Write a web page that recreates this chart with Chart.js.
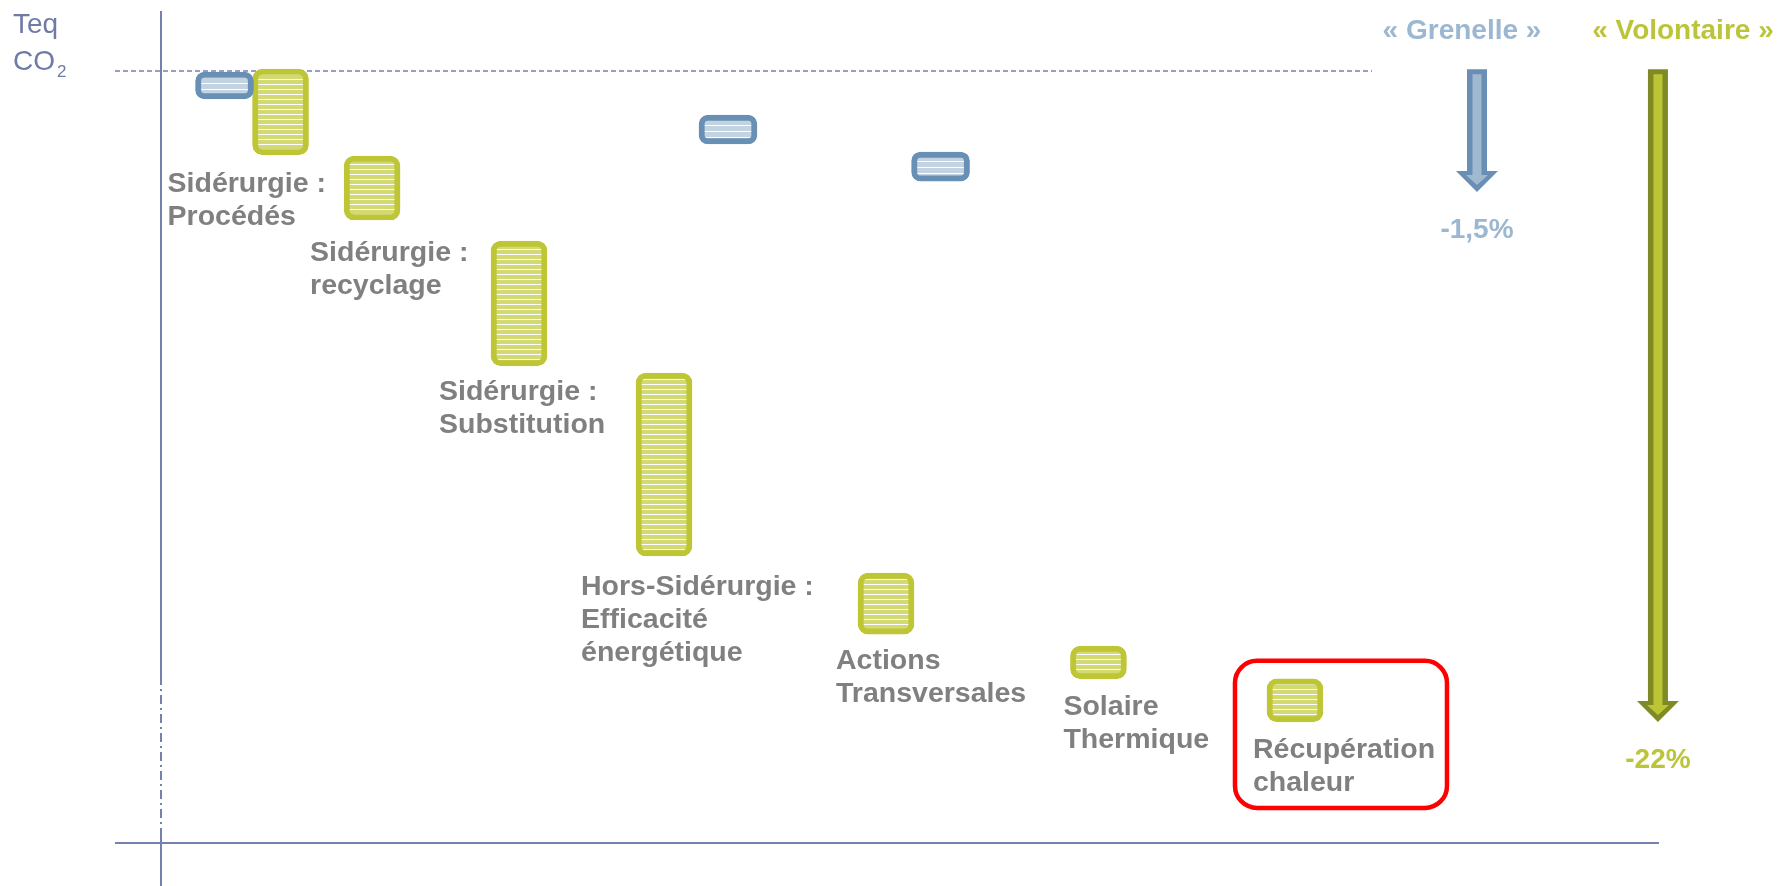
<!DOCTYPE html>
<html>
<head>
<meta charset="utf-8">
<script src="https://cdn.jsdelivr.net/npm/chart.js@4"></script>
<style>
  html, body { margin: 0; padding: 0; background: #fff; }
  canvas { display: block; }
</style>
</head>
<body>
<canvas id="chart-levers" width="1782" height="886"></canvas>
<script>
// levers of the "Volontaire" scenario (green), values in % vs reference emissions
const levers = [
    ['Sidérurgie :', 'Procédés'],
    ['Sidérurgie :', 'recyclage'],
    ['Sidérurgie :', 'Substitution'],
    ['Hors-Sidérurgie :', 'Efficacité', 'énergétique'],
    ['Actions', 'Transversales'],
    ['Solaire', 'Thermique'],
    ['Récupération', 'chaleur'],
];
const leverSlot = [7.98, 14.09, 23.9, 33.58, 48.4, 62.58, 75.7];
const leverFrom = [0.06, -2.89, -5.77, -10.25, -17.04, -19.52, -20.63];
const leverTo = [-2.85, -5.06, -10.01, -16.46, -19.11, -20.63, -22.09];

// "Grenelle" steps (blue)
const grenelleSlot = [4.24, 37.85, 52.04];
const grenelleFrom = [-0.04, -1.5, -2.75];
const grenelleTo = [-0.95, -2.48, -3.74];

// scenario arrows on the right
const scenarios = ['« Grenelle »', '« Volontaire »'];
const scenarioTargets = ['-1,5%', '-22%'];
const scenarioSlot = [87.85, 99.93];
const scenarioFrom = [0.06, 0.06];
const scenarioTo = [-4.11, -22.09];

const highlighted = 'Récupération';

// layout only: label offsets from bar left / bar bottom, in px
const labelOffsets = [[-85, 37], [-34, 41], [-52, 34], [-55, 39], [-22, 35], [-7, 36], [-14, 36]];
const titleOffsets = [-15, 25];

const FONT = "'Liberation Sans', Arial, sans-serif";
const GREEN = '#bec636';
const BLUE = '#6890b4';
const AXIS = '#7480ad';

function stripes(fill, gap) {
    const c = document.createElement('canvas');
    c.width = 8;
    c.height = gap;
    const g = c.getContext('2d');
    g.fillStyle = fill;
    g.fillRect(0, 0, 8, gap);
    g.fillStyle = '#ffffff';
    g.fillRect(0, gap - 1, 8, 1);
    return g.createPattern(c, 'repeat');
}

function toPoints(slots, from, to) {
    const data = [];
    for (let i = 0; i < slots.length; i++) {
        data.push({x: slots[i], y: [from[i], to[i]]});
    }
    return data;
}

function barBox(bar) {
    const p = bar.getProps(['x', 'y', 'base', 'width'], true);
    return {
        left: p.x - p.width / 2,
        right: p.x + p.width / 2,
        top: Math.min(p.y, p.base),
        bottom: Math.max(p.y, p.base),
    };
}

function drawArrow(ctx, x, yTop, yTip, outer, inner) {
    ctx.fillStyle = outer;
    ctx.beginPath();
    ctx.moveTo(x - 10, yTop);
    ctx.lineTo(x + 10, yTop);
    ctx.lineTo(x + 10, yTip - 21);
    ctx.lineTo(x + 21, yTip - 21);
    ctx.lineTo(x, yTip);
    ctx.lineTo(x - 21, yTip - 21);
    ctx.lineTo(x - 10, yTip - 21);
    ctx.closePath();
    ctx.fill();
    ctx.fillStyle = inner;
    ctx.beginPath();
    ctx.moveTo(x - 4.5, yTop + 5);
    ctx.lineTo(x + 4.5, yTop + 5);
    ctx.lineTo(x + 4.5, yTip - 17);
    ctx.lineTo(x + 11, yTip - 17);
    ctx.lineTo(x, yTip - 7);
    ctx.lineTo(x - 11, yTip - 17);
    ctx.lineTo(x - 4.5, yTip - 17);
    ctx.closePath();
    ctx.fill();
}

const decorations = {
    id: 'decorations',
    beforeDatasetsDraw(chart) {
        const ctx = chart.ctx;
        const area = chart.chartArea;
        const y0 = chart.scales.y.getPixelForValue(0);
        ctx.save();
        ctx.strokeStyle = AXIS;
        // reference level
        ctx.lineWidth = 1.5;
        ctx.setLineDash([5, 3]);
        ctx.beginPath();
        ctx.moveTo(115, y0);
        ctx.lineTo(1372, y0);
        ctx.stroke();
        // axes
        ctx.lineWidth = 2;
        ctx.setLineDash([]);
        ctx.beginPath();
        ctx.moveTo(area.left, 11);
        ctx.lineTo(area.left, 676);
        ctx.moveTo(area.left, 829);
        ctx.lineTo(area.left, chart.height);
        ctx.moveTo(115, area.bottom);
        ctx.lineTo(area.right, area.bottom);
        ctx.stroke();
        ctx.setLineDash([9, 4, 2, 4]);
        ctx.beginPath();
        ctx.moveTo(area.left, 676);
        ctx.lineTo(area.left, 829);
        ctx.stroke();
        ctx.setLineDash([]);
        // unit
        ctx.fillStyle = '#6f7aa6';
        ctx.font = '28px ' + FONT;
        ctx.textAlign = 'left';
        ctx.textBaseline = 'alphabetic';
        ctx.fillText('Teq', 13, 33);
        ctx.fillText('CO', 13, 70);
        ctx.font = '17px ' + FONT;
        ctx.fillText('2', 57, 77);
        ctx.restore();
    },
    afterDatasetsDraw(chart) {
        const ctx = chart.ctx;
        const xs = chart.scales.x;
        const ys = chart.scales.y;
        const bars = chart.getDatasetMeta(1).data;
        ctx.save();
        ctx.font = 'bold 28.5px ' + FONT;
        ctx.textAlign = 'left';
        ctx.textBaseline = 'alphabetic';
        ctx.fillStyle = '#808080';
        for (let i = 0; i < levers.length; i++) {
            const box = barBox(bars[i]);
            const [dx, dy] = labelOffsets[i];
            levers[i].forEach((line, k) => {
                ctx.fillText(line, box.left + dx, box.bottom + dy + k * 33);
            });
            if (levers[i][0] === highlighted) {
                ctx.strokeStyle = '#ff0000';
                ctx.lineWidth = 4.5;
                ctx.beginPath();
                ctx.roundRect(box.left - 32, box.top - 18, box.right - box.left + 156, box.bottom - box.top + 104, 22);
                ctx.stroke();
            }
        }
        // scenario arrows
        const arrowColors = [['#6a8fb4', '#a0b9d1'], ['#7f8a24', '#bcc634']];
        const textColors = ['#9cb7d1', '#bcc43a'];
        ctx.textAlign = 'center';
        ctx.font = 'bold 28px ' + FONT;
        for (let i = 0; i < scenarios.length; i++) {
            const x = xs.getPixelForValue(scenarioSlot[i]);
            const yTop = ys.getPixelForValue(scenarioFrom[i]);
            const yTip = ys.getPixelForValue(scenarioTo[i]);
            drawArrow(ctx, x, yTop, yTip, arrowColors[i][0], arrowColors[i][1]);
            ctx.fillStyle = textColors[i];
            ctx.fillText(scenarios[i], x + titleOffsets[i], 39);
            ctx.fillText(scenarioTargets[i], x, yTip + 46);
        }
        ctx.restore();
    }
};

const elLevers = document.getElementById('chart-levers');
const chart = new Chart(elLevers, {
    type: 'bar',
    data: {
        datasets: [
            {
                label: 'Grenelle',
                data: toPoints(grenelleSlot, grenelleFrom, grenelleTo),
                backgroundColor: stripes('#c3d3e1', 6),
                borderColor: BLUE,
                borderWidth: 6,
                borderRadius: 9,
                borderSkipped: false,
                barThickness: 58,
                grouped: false,
            },
            {
                label: 'Volontaire',
                data: toPoints(leverSlot, leverFrom, leverTo),
                backgroundColor: stripes('#d4da72', 5),
                borderColor: GREEN,
                borderWidth: 6,
                borderRadius: 10,
                borderSkipped: false,
                barThickness: 56,
                grouped: false,
            },
        ]
    },
    options: {
        responsive: false,
        animation: false,
        devicePixelRatio: 1,
        layout: {padding: {left: 161, right: 123, top: 12, bottom: 43}},
        plugins: {
            legend: {display: false},
            tooltip: {enabled: false},
        },
        scales: {
            x: {type: 'linear', min: 0, max: 100, offset: false, display: false},
            y: {type: 'linear', min: -26.2, max: 2, beginAtZero: false, display: false},
        }
    },
    plugins: [decorations]
});
</script>
</body>
</html>
